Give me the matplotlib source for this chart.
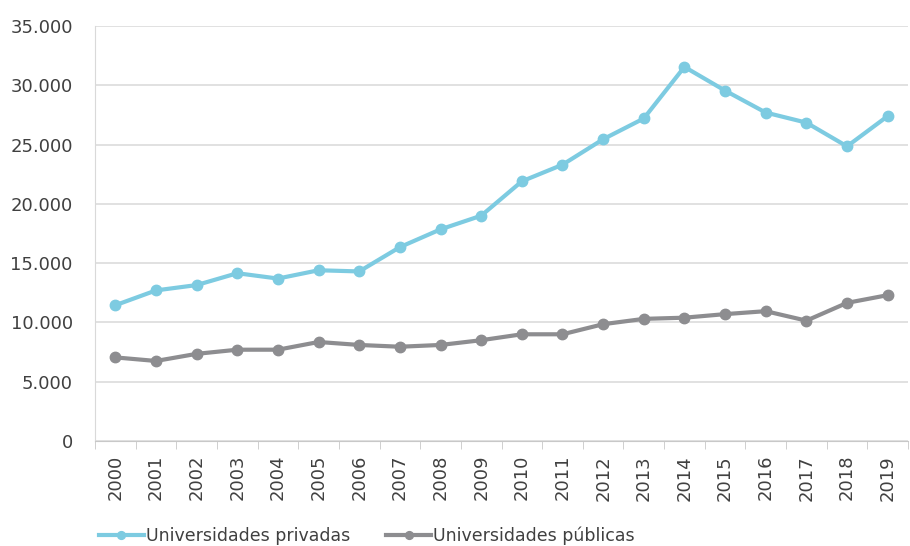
import matplotlib.pyplot as plt
from matplotlib.ticker import FuncFormatter, FixedLocator

years = list(range(2000, 2020))
privadas = [11450, 12700, 13150, 14150, 13700, 14400, 14300, 16350, 17850, 19000,
            21900, 23300, 25450, 27200, 31550, 29550, 27700, 26850, 24850, 27400]
publicas = [7050, 6750, 7350, 7700, 7700, 8350, 8100, 7950, 8100, 8500,
            9000, 9000, 9850, 10300, 10400, 10700, 10950, 10150, 11650, 12300]

BLUE = "#7dcbe1"
GREY = "#8d8d90"
TEXT = "#404040"


def thousands(v, _):
    return f"{int(v):,}".replace(",", ".")


fig = plt.figure(figsize=(9.1, 5.46), dpi=100)
ax = fig.add_axes([95 / 910, 1 - 441 / 546, 813 / 910, 415 / 546])

x = list(range(len(years)))
ax.plot(x, privadas, color=BLUE, lw=3, marker="o", ms=7.5,
        label="Universidades privadas")
ax.plot(x, publicas, color=GREY, lw=3, marker="o", ms=7.5,
        label="Universidades públicas")

ax.set_xlim(-0.5, len(years) - 0.5)
ax.set_ylim(0, 35000)
ax.set_yticks(range(0, 35001, 5000))
ax.yaxis.set_major_formatter(FuncFormatter(thousands))
ax.grid(axis="y", color="#dcdcdc", lw=1.2)
ax.set_axisbelow(True)

ax.set_xticks(x)
ax.set_xticklabels([str(y) for y in years], rotation=90)
ax.xaxis.set_minor_locator(FixedLocator([i - 0.5 for i in range(len(years) + 1)]))
ax.tick_params(axis="x", which="major", length=0, pad=10)
ax.tick_params(axis="x", which="minor", length=6, color="#c8c8c8")
ax.tick_params(axis="y", length=0, pad=16)
ax.tick_params(labelsize=13, labelcolor=TEXT)

for side in ("top", "right"):
    ax.spines[side].set_visible(False)
ax.spines["left"].set_color("#d9d9d9")
ax.spines["bottom"].set_color("#c8c8c8")

leg = ax.legend(loc="lower left", bbox_to_anchor=(-0.004, -0.268), ncol=2, frameon=False,
                fontsize=12.5, labelcolor=TEXT, handlelength=2.6, handletextpad=0.1,
                columnspacing=2.1, borderaxespad=0, markerscale=0.75)

fig.savefig("out.png", dpi=100, facecolor="white")
